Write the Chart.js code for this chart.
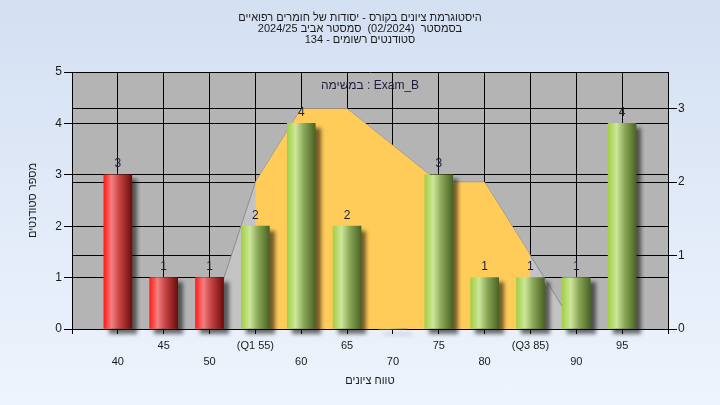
<!DOCTYPE html>
<html>
<head>
<meta charset="utf-8">
<script src="https://cdn.jsdelivr.net/npm/chart.js@4.4.1/dist/chart.umd.min.js"></script>
<style>
  html, body { margin: 0; padding: 0; }
  body { width: 720px; height: 405px; overflow: hidden; background: linear-gradient(#d3e0f2, #eef4fd); }
  canvas { display: block; }
</style>
</head>
<body>
<canvas id="chart" width="720" height="405"></canvas>
<script>
// data
const grades = [40, 45, 50, 55, 60, 65, 70, 75, 80, 85, 90, 95];
const counts = [3, 1, 1, 2, 4, 2, 0, 3, 1, 1, 1, 4];
const curveX = [50, 55, 60, 65, 70, 75, 80, 85, 90];
const curveY = [0.1, 2, 3, 3, 2.5, 2, 2, 1, 0];
const q1 = 55;
const q3 = 85;
const failBelow = 55;

const titleLines = [
  "היסטוגרמת ציונים בקורס - יסודות של חומרים רפואיים",
  "בסמסטר  (02/2024)  סמסטר אביב 2024/25",
  "סטודנטים רשומים - 134"
];
const examLabel = "במשימה : Exam_B";
const yTitle = "מספר סטודנטים";
const xTitle = "טווח ציונים";

const fontFamily = "'Liberation Sans', 'DejaVu Sans', sans-serif";

function tickText(v) {
  if (v === q1) return "(Q1 " + v + ")";
  if (v === q3) return "(Q3 " + v + ")";
  return String(v);
}

Chart.defaults.font.family = fontFamily;
Chart.defaults.color = "#1a1a1a";
Chart.defaults.animation = false;

const plotBg = {
  id: "plotBg",
  beforeDraw(chart) {
    const { ctx, chartArea: a } = chart;
    ctx.save();
    ctx.fillStyle = "#b4b4b4";
    ctx.fillRect(a.left, a.top, a.right - a.left, a.bottom - a.top);
    ctx.restore();
  }
};

const barShadow = {
  id: "barShadow",
  beforeDatasetDraw(chart, args) {
    if (chart.data.datasets[args.index].type !== "bar") return;
    const ctx = chart.ctx;
    ctx.save();
    ctx.shadowColor = "rgba(0,0,0,0.55)";
    ctx.shadowOffsetX = 5;
    ctx.shadowOffsetY = 5;
    ctx.shadowBlur = 4;
  },
  afterDatasetDraw(chart, args) {
    if (chart.data.datasets[args.index].type !== "bar") return;
    chart.ctx.restore();
  }
};

const barLabels = {
  id: "barLabels",
  afterDatasetsDraw(chart) {
    const ctx = chart.ctx;
    const meta = chart.getDatasetMeta(2);
    ctx.save();
    ctx.font = "12px " + fontFamily;
    ctx.fillStyle = "#1c1c3c";
    ctx.textAlign = "center";
    ctx.textBaseline = "middle";
    meta.data.forEach((el, i) => {
      if (counts[i] > 0) ctx.fillText(String(counts[i]), el.x, el.y - 11);
    });
    const a = chart.chartArea;
    ctx.fillText(examLabel, (a.left + a.right) / 2, a.top + 14);
    ctx.restore();
  }
};

function barGradient(c) {
  const red = c.raw && c.raw.x < failBelow;
  const fallback = red ? "#cc3333" : "#88a656";
  if (c.type !== "data") return fallback;
  const chart = c.chart;
  const xs = chart.scales.x;
  if (!xs) return fallback;
  const px = xs.getPixelForValue(c.raw.x);
  if (!isFinite(px)) return fallback;
  const g = chart.ctx.createLinearGradient(px - 14, 0, px + 14, 0);
  if (red) {
    g.addColorStop(0, "#ff1c1c");
    g.addColorStop(0.28, "#f28080");
    g.addColorStop(0.55, "#c84444");
    g.addColorStop(1, "#6e0c0c");
  } else {
    g.addColorStop(0, "#a2cf44");
    g.addColorStop(0.3, "#cde79a");
    g.addColorStop(0.6, "#88a656");
    g.addColorStop(1, "#4a6424");
  }
  return g;
}

const curvePoints = curveX.map((x, i) => ({ x: x, y: curveY[i] }));
const innerPoints = curvePoints.filter(p => p.x >= q1 && p.x <= q3);

new Chart(document.getElementById("chart"), {
  type: "bar",
  data: {
    datasets: [
      {
        type: "line",
        data: curvePoints,
        yAxisID: "y2",
        fill: "origin",
        backgroundColor: "#c3c3c3",
        borderColor: "#8c8c8c",
        borderWidth: 1,
        pointRadius: 0,
        tension: 0,
        order: 3
      },
      {
        type: "line",
        data: innerPoints,
        yAxisID: "y2",
        fill: "origin",
        backgroundColor: "#ffcc5a",
        borderWidth: 0,
        pointRadius: 0,
        tension: 0,
        order: 2
      },
      {
        type: "bar",
        data: grades.map((g, i) => ({ x: g, y: counts[i] })),
        yAxisID: "y",
        backgroundColor: barGradient,
        borderWidth: 0,
        barThickness: 28,
        clip: false,
        order: 1
      }
    ]
  },
  options: {
    responsive: false,
    layout: { padding: 0 },
    plugins: {
      legend: { display: false },
      tooltip: { enabled: false },
      title: {
        display: true,
        text: titleLines,
        color: "#1a1a1a",
        font: { size: 11, weight: "normal", lineHeight: 1 },
        padding: { top: 12.5, bottom: 26.5 }
      }
    },
    scales: {
      x: {
        type: "linear",
        min: 35,
        max: 100,
        offset: false,
        grid: { color: "#000", tickLength: 5, offset: false },
        border: { color: "#000" },
        ticks: {
          stepSize: 5,
          autoSkip: false,
          maxRotation: 0,
          padding: 3.5,
          color: "#1a1a1a",
          font: { size: 11, lineHeight: 1.48 },
          callback: v => {
            if (v < grades[0] || v > grades[grades.length - 1]) return "";
            const s = tickText(v);
            return ((v - grades[0]) / 5) % 2 === 0 ? ["", s] : [s];
          }
        },
        title: {
          display: true,
          text: xTitle,
          color: "#1a1a1a",
          font: { size: 11, lineHeight: 1.2 },
          padding: { top: 0, bottom: 17.4 }
        },
        afterFit: s => { s.height = 76; }
      },
      y: {
        position: "left",
        min: 0,
        max: 5,
        grid: { color: "#000", tickLength: 8 },
        border: { color: "#000" },
        ticks: { stepSize: 1, padding: 2, color: "#1a1a1a", font: { size: 12 } },
        title: {
          display: true,
          text: yTitle,
          color: "#1a1a1a",
          font: { size: 11, lineHeight: 1.2 },
          padding: { top: 26.4, bottom: 0 }
        },
        afterFit: s => { s.width = 72; }
      },
      y2: {
        position: "right",
        min: 0,
        max: 3.5,
        grid: { color: "#000", tickLength: 9 },
        border: { color: "#000" },
        ticks: { stepSize: 1, padding: 1, color: "#1a1a1a", font: { size: 12 } },
        afterBuildTicks: s => { s.ticks = s.ticks.filter(t => Number.isInteger(t.value)); },
        afterFit: s => { s.width = 52; }
      }
    }
  },
  plugins: [plotBg, barShadow, barLabels]
});
</script>
</body>
</html>
